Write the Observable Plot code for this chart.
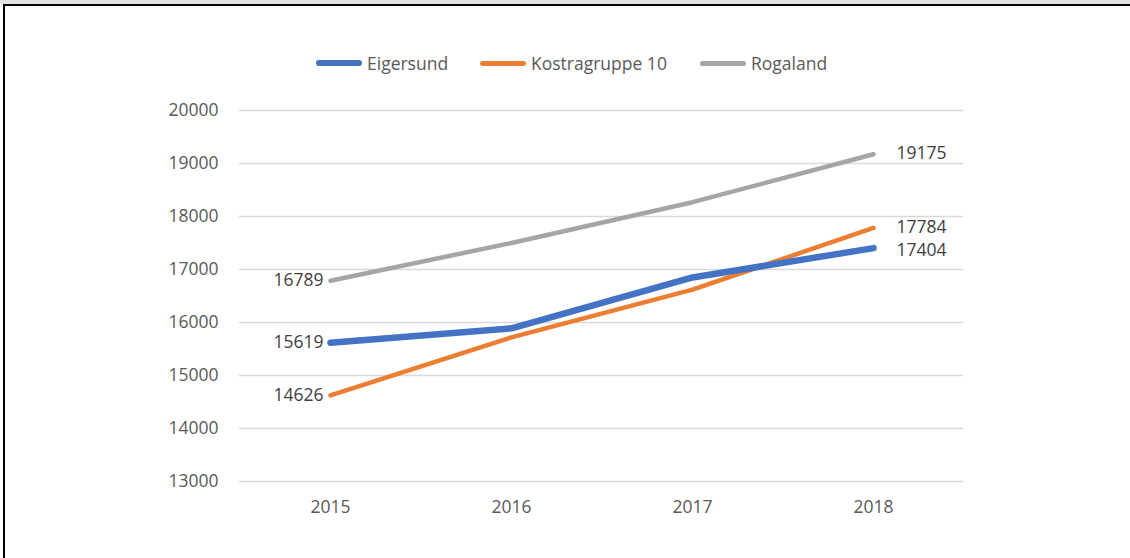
<!DOCTYPE html>
<html>
<head>
<meta charset="utf-8">
<script src="https://cdn.jsdelivr.net/npm/d3@7"></script>
<script src="https://cdn.jsdelivr.net/npm/@observablehq/plot@0.6"></script>
<style>
  html, body { margin: 0; padding: 0; background: #fff; }
  #frame { position: relative; width: 1130px; height: 558px; overflow: hidden; background: #fff; font-family: "Open Sans", sans-serif; }
  #topband { position: absolute; left: 0; top: 0; width: 1130px; height: 4px; background: #e3e3e3; }
  #topline { position: absolute; left: 3px; top: 4px; width: 1127px; height: 2px; background: #000; }
  #leftline { position: absolute; left: 3px; top: 4px; width: 2px; height: 554px; background: #000; }
  #legend { position: absolute; top: 50px; left: 0; height: 26px; width: 1130px; font-size: 17.5px; color: #595959; }
  .item { position: absolute; top: 0; display: flex; align-items: center; height: 26px; }
  .sw { width: 46px; border-radius: 3px; margin-right: 5px; }
  #chart { position: absolute; left: 0; top: 0; }
</style>
</head>
<body>
<div id="frame">
  <div id="topband"></div>
  <div id="topline"></div>
  <div id="leftline"></div>
  <div id="chart"></div>
  <div id="legend"></div>
</div>
<script>
const years = ["2015", "2016", "2017", "2018"];
const seriesNames = ["Eigersund", "Kostragruppe 10", "Rogaland"];
const eigersund = [15619, 15890, 16850, 17404];
const kostragruppe10 = [14626, 15720, 16620, 17784];
const rogaland = [16789, 17500, 18270, 19175];
const yTicks = [13000, 14000, 15000, 16000, 17000, 18000, 19000, 20000];
const colors = ["#4472C4", "#ED7D31", "#A5A5A5"];
const widths = [6.5, 4.5, 4.5];
const legendLeft = [316, 480, 700];

const seriesValues = [eigersund, kostragruppe10, rogaland];
const data = [];
seriesNames.forEach((s, i) => years.forEach((y, j) => data.push({series: s, year: y, value: seriesValues[i][j]})));

const firstLabels = data.filter(d => d.year === years[0]);
const lastLabels = data.filter(d => d.year === years[years.length - 1]);
const lastUpper = lastLabels.filter(d => d.series !== "Eigersund");
const lastLower = lastLabels.filter(d => d.series === "Eigersund");

const lineMarks = seriesNames.map((s, i) =>
  Plot.line(data.filter(d => d.series === s), {
    x: "year", y: "value", stroke: colors[i], strokeWidth: widths[i],
    strokeLinecap: "round", strokeLinejoin: "round"
  })
);
const orderedLines = [lineMarks[2], lineMarks[1], lineMarks[0]];

const chart = Plot.plot({
  width: 1130,
  height: 558,
  marginLeft: 239,
  marginRight: 167,
  marginTop: 110,
  marginBottom: 77,
  style: { background: "transparent", fontFamily: "Open Sans, sans-serif", fontSize: "17.5px", color: "#595959", overflow: "visible" },
  x: { type: "point", domain: years, padding: 0.5, label: null },
  y: { domain: [13000, 20000], label: null },
  marks: [
    Plot.ruleY(yTicks, { stroke: "#d9d9d9", strokeWidth: 1.5 }),
    Plot.axisY(yTicks, { tickSize: 0, tickPadding: 21, tickFormat: d => String(d), fill: "#595959", fontSize: 17.5, label: null }),
    Plot.axisX(years, { tickSize: 0, tickPadding: 19, fill: "#595959", fontSize: 17.5, label: null }),
    ...orderedLines,
    Plot.text(firstLabels, { x: "year", y: "value", text: d => String(d.value), textAnchor: "end", dx: -7, fill: "#404040", fontSize: 17.5 }),
    Plot.text(lastUpper, { x: "year", y: "value", text: d => String(d.value), textAnchor: "start", dx: 23, dy: -1, fill: "#404040", fontSize: 17.5 }),
    Plot.text(lastLower, { x: "year", y: "value", text: d => String(d.value), textAnchor: "start", dx: 23, dy: 2, fill: "#404040", fontSize: 17.5 })
  ]
});
document.getElementById("chart").appendChild(chart);

const legend = document.getElementById("legend");
seriesNames.forEach((s, i) => {
  const item = document.createElement("div");
  item.className = "item";
  item.style.left = legendLeft[i] + "px";
  const sw = document.createElement("div");
  sw.className = "sw";
  sw.style.height = (i === 0 ? 6 : 5) + "px";
  sw.style.background = colors[i];
  const label = document.createElement("span");
  label.textContent = s;
  item.appendChild(sw);
  item.appendChild(label);
  legend.appendChild(item);
});
</script>
</body>
</html>
